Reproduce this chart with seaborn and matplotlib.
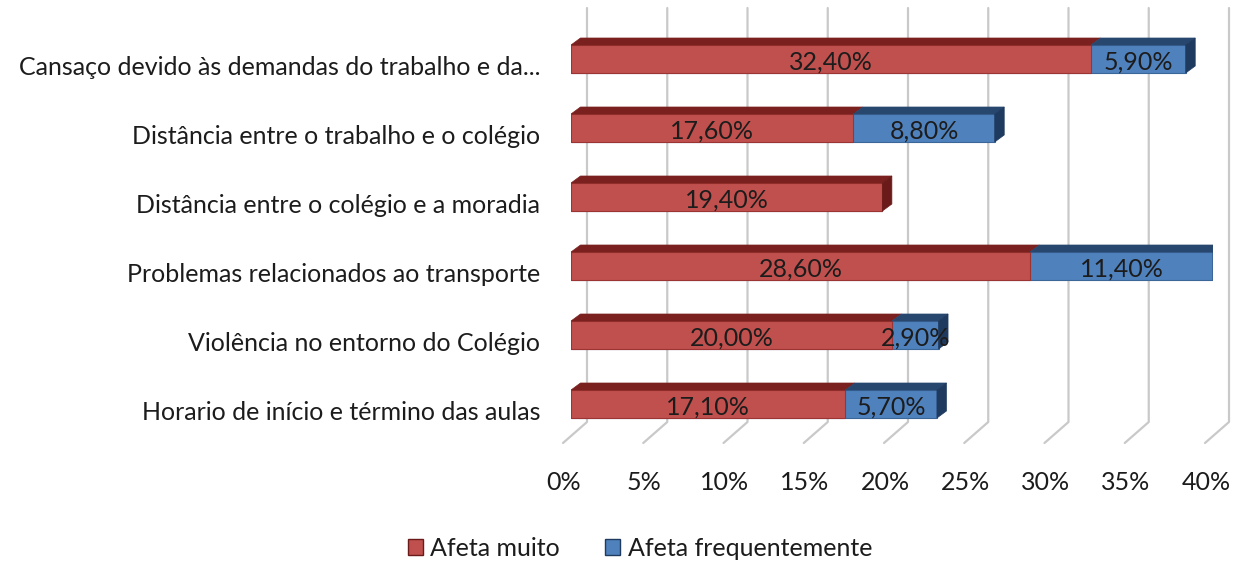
import numpy as np
import pandas as pd
import matplotlib
matplotlib.use("Agg")
import matplotlib.pyplot as plt
import seaborn as sns
from matplotlib.patches import Polygon, Patch
from matplotlib.lines import Line2D
from matplotlib.transforms import ScaledTranslation, IdentityTransform

# ---- data ----
categories = [
    "Cansaço devido às demandas do trabalho e da...",
    "Distância entre o trabalho e o colégio",
    "Distância entre o colégio e a moradia",
    "Problemas relacionados ao transporte",
    "Violência no entorno do Colégio",
    "Horario de início e término das aulas",
]
afeta_muito = [32.4, 17.6, 19.4, 28.6, 20.0, 17.1]
afeta_frequentemente = [5.9, 8.8, 0.0, 11.4, 2.9, 5.7]
series_names = ["Afeta muito", "Afeta frequentemente"]
x_ticks = [0, 5, 10, 15, 20, 25, 30, 35, 40]
x_tick_labels = ["0%", "5%", "10%", "15%", "20%", "25%", "30%", "35%", "40%"]

# ---- style ----
RED = "#C0504D"
BLUE = "#4F81BD"
RED_TOP = "#7a211f"
BLUE_TOP = "#27476f"
RED_SIDE = "#6a1b19"
BLUE_SIDE = "#1f3a5f"
RED_EDGE = "#9b3432"
BLUE_EDGE = "#3b6698"
GRID = "#c9c9c9"
TXT = "#1c1c1c"
FS = 18

sns.set_theme(style="white")
plt.rcParams["font.family"] = ["Lato", "DejaVu Sans"]

W, H = 1234, 561
fig = plt.figure(figsize=(W / 100, H / 100), dpi=100)
ax_l, ax_r, ax_t, ax_b = 571, 1213, 0, 443
ax = fig.add_axes([ax_l / W, 1 - ax_b / H, (ax_r - ax_l) / W, (ax_b - ax_t) / H])

df = pd.DataFrame({"cat": categories, "muito": afeta_muito, "freq": afeta_frequentemente})
df["total"] = df["muito"] + df["freq"]

row_px = 69.0
bar_px = 28.0
bw = bar_px / row_px

sns.barplot(data=df, x="total", y="cat", orient="h", color=BLUE, saturation=1,
            width=bw, errorbar=None, edgecolor=BLUE_EDGE, linewidth=0.8, ax=ax, zorder=3)
sns.barplot(data=df, x="muito", y="cat", orient="h", color=RED, saturation=1,
            width=bw, errorbar=None, edgecolor=RED_EDGE, linewidth=0.8, ax=ax, zorder=3)

ax.set_xlim(0, 40)
first_c = 59.0
ax.set_ylim((ax_b - first_c) / row_px, -first_c / row_px)
for s in ax.spines.values():
    s.set_visible(False)
ax.set_facecolor("none")
ax.set_xlabel("")
ax.set_ylabel("")
ax.grid(False)

# 3D depth in data units
px_x = (ax_r - ax_l) / 40.0
px_y = (ax_b - ax_t) / (ax.get_ylim()[0] - ax.get_ylim()[1])
ddx = 9.5 / px_x
ddy = 7.0 / px_y

lab = lambda v: f"{v:.2f}%".replace(".", ",")
for i in range(len(categories)):
    m = afeta_muito[i]
    f = afeta_frequentemente[i]
    tot = m + f
    ytop = i - bw / 2
    ybot = i + bw / 2
    segs = [(0, m, RED_TOP)]
    if f > 0:
        segs.append((m, tot, BLUE_TOP))
    for x0, x1, c in segs:
        ax.add_patch(Polygon([(x0, ytop), (x1, ytop), (x1 + ddx, ytop - ddy), (x0 + ddx, ytop - ddy)],
                             closed=True, facecolor=c, edgecolor=c, linewidth=0.5, zorder=3))
    side_c = BLUE_SIDE if f > 0 else RED_SIDE
    ax.add_patch(Polygon([(tot, ytop), (tot + ddx, ytop - ddy), (tot + ddx, ybot - ddy), (tot, ybot)],
                         closed=True, facecolor=side_c, edgecolor=side_c, linewidth=0.5, zorder=3))
    ax.text(m / 2, i + 0.04, lab(m), ha="center", va="center", fontsize=FS, color=TXT, zorder=5)
    if f > 0:
        ax.text(m + f / 2, i + 0.04, lab(f), ha="center", va="center", fontsize=FS, color=TXT, zorder=5)

# back-wall gridlines with floor lines
fig.canvas.draw()
for v in x_ticks:
    xf = ax.transData.transform((v, 0))[0]
    ln = Line2D([xf + 16, xf + 16, xf - 8], [H - 8, H - 422, H - 443],
                transform=IdentityTransform(), color=GRID, linewidth=1.6, zorder=0)
    fig.add_artist(ln)

# ticks
ax.set_xticks(x_ticks)
ax.set_xticklabels(x_tick_labels, fontsize=FS, color=TXT)
ax.tick_params(axis="x", length=0, pad=20.5)
ax.tick_params(axis="y", length=0, pad=22.3, labelsize=FS, labelcolor=TXT)
for t in ax.get_xticklabels():
    t.set_transform(t.get_transform() + ScaledTranslation(-7 / 100, 0, fig.dpi_scale_trans))
for t in ax.get_yticklabels():
    t.set_transform(t.get_transform() + ScaledTranslation(0, -6 / 100, fig.dpi_scale_trans))

handles = [Patch(facecolor=RED, edgecolor=RED_SIDE), Patch(facecolor=BLUE, edgecolor=BLUE_SIDE)]
fig.legend(handles, series_names, loc="center", bbox_to_anchor=(640 / W, 1 - 548 / H), ncol=2,
           frameon=False, fontsize=FS, handlelength=0.6, handleheight=0.6, handletextpad=0.3,
           columnspacing=1.8, labelcolor=TXT)

fig.savefig("out.png", dpi=100)
